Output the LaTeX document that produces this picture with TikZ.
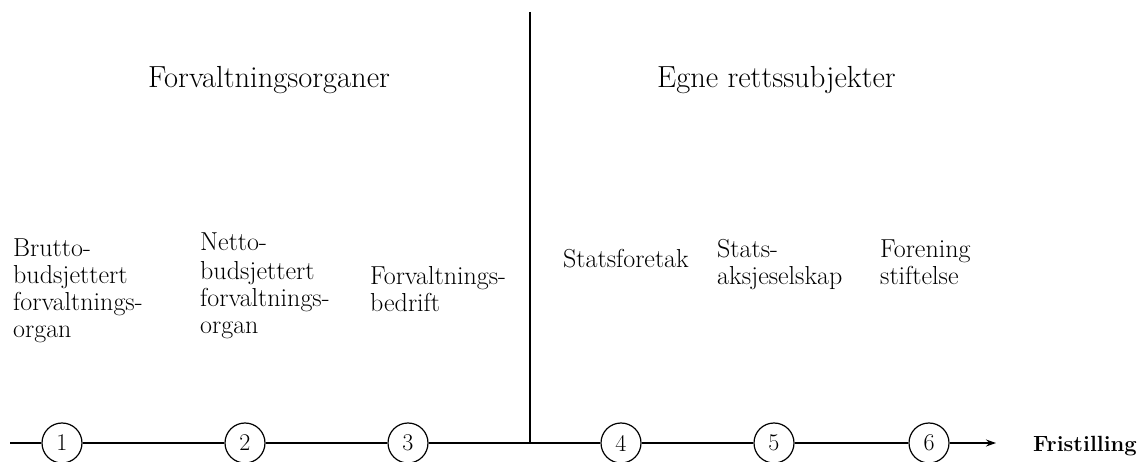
\documentclass[tikz,border=0pt]{standalone}
\usepackage{fontspec}
\usetikzlibrary{arrows.meta}
\begin{document}
\begin{tikzpicture}[x=1pt,y=-1pt,
  lbl/.style={anchor=base west,inner sep=0pt,font=\fontsize{26}{27}\selectfont},
  head/.style={anchor=base west,inner sep=0pt,font=\fontsize{30.5}{34}\selectfont},
  num/.style={circle,draw,line width=1.2pt,minimum size=40pt,inner sep=0pt,font=\fontsize{24}{26}\selectfont},
  axis/.style={line width=1.2pt}]
\useasboundingbox (0,0) rectangle (1144,462);
% headings
\node[head] (h1) at (148,88) {Forvaltningsorganer};
\node[head] (h2) at (657,88) {Egne rettssubjekter};
% labels
\node[lbl] (t1) at (13,257) {\begin{tabular}[t]{@{}l@{}}Brutto-\\budsjettert\\forvaltnings-\\organ\end{tabular}};
\node[lbl] (t2) at (200,251) {\begin{tabular}[t]{@{}l@{}}Netto-\\[2pt]budsjettert\\forvaltnings-\\organ\end{tabular}};
\node[lbl] (t3) at (370,285) {\begin{tabular}[t]{@{}l@{}}Forvaltnings-\\bedrift\end{tabular}};
\node[lbl] (t4) at (563,268) {Statsforetak};
\node[lbl] (t5) at (717,258) {\begin{tabular}[t]{@{}l@{}}Stats-\\aksjeselskap\end{tabular}};
\node[lbl] (t6) at (880,258) {\begin{tabular}[t]{@{}l@{}}Forening\\stiftelse\end{tabular}};
% axis
\coordinate (s) at (10,443);
\coordinate (j) at (530,443);
\coordinate (top) at (530,12);
\coordinate (e) at (996,443);
\node[num] (c1) at (62,443) {1};
\node[num] (c2) at (245,443) {2};
\node[num] (c3) at (408,443) {3};
\node[num] (c4) at (621,443) {4};
\node[num] (c5) at (774,443) {5};
\node[num] (c6) at (929,443) {6};
\draw[axis] (s) -- (c1);
\draw[axis] (c1) -- (c2);
\draw[axis] (c2) -- (c3);
\draw[axis] (c3) -- (j);
\draw[axis] (j) -- (c4);
\draw[axis] (c4) -- (c5);
\draw[axis] (c5) -- (c6);
\draw[axis,-{Stealth[length=10pt,width=7pt]}] (c6) -- (e);
\draw[axis] (top) -- (j);
\node[anchor=base west,inner sep=0pt,font=\fontsize{22}{26}\selectfont\bfseries] (fr) at (1033,451) {Fristilling};
\end{tikzpicture}
\end{document}
